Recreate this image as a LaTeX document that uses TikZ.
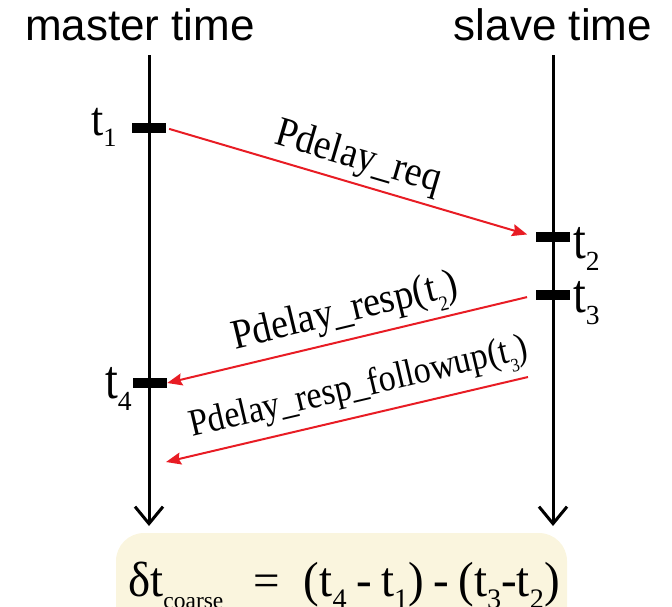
\documentclass[tikz,border=0pt]{standalone}
\usepackage{fontspec}
\usepackage{graphicx}
\setmainfont{Liberation Serif}
\newfontfamily\headfont{Liberation Sans}
\usetikzlibrary{arrows.meta}
\definecolor{msgred}{RGB}{232,28,36}
\definecolor{boxyellow}{RGB}{250,245,222}
\newcommand\mysub[1]{\raisebox{-0.27em}{\scalebox{0.6}{#1}}}
\newcommand\mysubs[1]{\raisebox{-0.27em}{\scalebox{0.5}{#1}}}
\newcommand\tall[2]{\scalebox{1}[#1]{#2}}
\begin{document}
\begin{tikzpicture}[x=1pt,y=-1pt,
  timeline/.style={line width=3pt, line cap=butt, -{Straight Barb[length=17pt,width=28pt,line width=3pt]}},
  tickbox/.style={rectangle, fill=black, draw=none, minimum width=34pt, minimum height=10pt, inner sep=0pt},
  msg/.style={msgred, line width=2pt},
  msgtip/.tip={Stealth[length=15pt,width=12pt,inset=2pt]},
  lab/.style={font=\fontsize{38}{40}\selectfont, text=black, sloped, above, inner sep=5pt},
  tlab/.style={font=\fontsize{46}{48}\selectfont, anchor=base west, inner sep=0pt},
  head/.style={font=\headfont\fontsize{44}{48}\selectfont, anchor=base, inner sep=0pt}]
\useasboundingbox (0,0) rectangle (672,606);
\clip (0,0) rectangle (672,606);
% headings
\node[head] (mh) at (140,40) {master time};
\node[head] (sh) at (553,40) {slave time};
% time lines
\coordinate (mtop) at (149,55);
\coordinate (mend) at (149,526);
\coordinate (stop) at (553,55);
\coordinate (send) at (553,526);
\draw[timeline] (mtop) -- (mend);
\draw[timeline] (stop) -- (send);
% ticks
\node[tickbox] (k1) at (149,128) {};
\node[tickbox] (k2) at (553,237) {};
\node[tickbox] (k3) at (553,295) {};
\node[tickbox] (k4) at (150,383) {};
% tick labels
\node[tlab, font=\fontsize{44}{46}\selectfont] (l1) at (91,135) {\tall{1.1}{t}\mysub{1}};
\node[tlab] (l2) at (573,258) {\tall{1.2}{t}\mysub{2}};
\node[tlab] (l3) at (573,312) {\tall{1.2}{t}\mysub{3}};
\node[tlab] (l4) at (105,398) {\tall{1.2}{t}\mysub{4}};
% messages
\coordinate (f3) at (528,377);
\coordinate (f4) at (166,462);
\draw[msg, -msgtip, shorten <=3pt, shorten >=9pt] (k1.east) -- node[lab] {\tall{1.1}{Pdelay\_req}} (k2.west);
\draw[msg, msgtip-, shorten >=9pt] (k4.east) -- node[lab] {\tall{1.1}{Pdelay\_resp(t\mysubs{2})}} (k3.west);
\draw[msg, msgtip-] (f4) -- node[lab, pos=0.55, inner sep=7pt, font=\fontsize{34}{36}\selectfont] {\tall{1.12}{Pdelay\_resp\_followup(t\mysubs{3})}} (f3);
% result box
\fill[boxyellow, rounded corners=28pt] (116,533) rectangle (567,660);
\node[anchor=base west, inner sep=0pt, font=\fontsize{47}{50}\selectfont] (eq) at (128,596)
  {\tall{1.05}{δt}\mysubs{coarse}\hspace{30pt}=\hspace{24pt}\tall{1.05}{(t}\mysub{4}\hspace{0.2em}\tall{1.05}{-}\hspace{0.2em}\tall{1.05}{t}\mysub{1}\tall{1.05}{)}\hspace{0.2em}\tall{1.05}{-}\hspace{0.2em}\tall{1.05}{(t}\mysub{3}\tall{1.05}{-t}\mysub{2}\tall{1.05}{)}};
\end{tikzpicture}
\end{document}
